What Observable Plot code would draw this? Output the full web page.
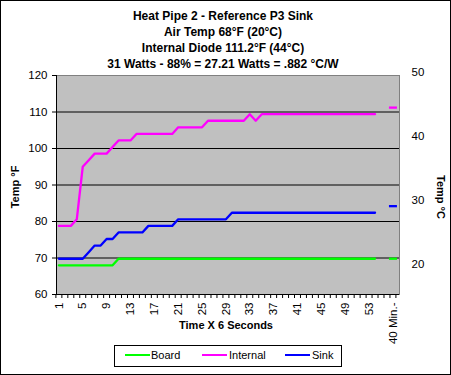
<!DOCTYPE html>
<html><head><meta charset="utf-8">
<script src="https://cdn.jsdelivr.net/npm/d3@7"></script>
<script src="https://cdn.jsdelivr.net/npm/@observablehq/plot@0.6"></script>
<style>
html,body{margin:0;padding:0;background:#fff;}
#wrap{position:relative;width:451px;height:375px;font-family:"Liberation Sans",Arial,sans-serif;overflow:hidden;background:#fff;color:#000;}
#border{position:absolute;left:0;top:0;width:451px;height:375px;box-sizing:border-box;border:1px solid #000;pointer-events:none;}
#title{position:absolute;left:0;top:8px;width:446px;text-align:center;font-weight:bold;font-size:12px;line-height:16px;}
#legend{position:absolute;left:114px;top:345px;width:228px;height:22px;box-sizing:border-box;border:1px solid #000;font-size:11px;background:#fff;}
.sw{position:absolute;top:8px;width:25px;height:2px;}
.lt{position:absolute;top:2px;line-height:14px;white-space:nowrap;}
#chart{position:absolute;left:0;top:0;}
</style></head>
<body>
<div id="wrap">
  <div id="chart"></div>
  <div id="title">
    <div>Heat Pipe 2 - Reference P3 Sink</div>
    <div>Air Temp 68°F (20°C)</div>
    <div>Internal Diode 111.2°F (44°C)</div>
    <div>31 Watts - 88% = 27.21 Watts = .882 °C/W</div>
  </div>
  <div id="legend">
    <div class="sw" style="left:10px;background:#00ff00"></div><span class="lt" style="left:36px">Board</span>
    <div class="sw" style="left:87px;background:#ff00ff"></div><span class="lt" style="left:114px">Internal</span>
    <div class="sw" style="left:170px;background:#0000ff"></div><span class="lt" style="left:197px">Sink</span>
  </div>
  <div id="border"></div>
</div>
<script>
// ---- data (°F) ----
const cats = d3.range(1, 55); // readings 1..54 (every 6 s)
const boardF = [68,68,68,68,68,68,68,68,68,68,
  69.8,69.8,69.8,69.8,69.8,69.8,69.8,69.8,69.8,69.8,
  69.8,69.8,69.8,69.8,69.8,69.8,69.8,69.8,69.8,69.8,
  69.8,69.8,69.8,69.8,69.8,69.8,69.8,69.8,69.8,69.8,
  69.8,69.8,69.8,69.8,69.8,69.8,69.8,69.8,69.8,69.8,
  69.8,69.8,69.8,69.8];
const internalF = [78.8,78.8,78.8,80.6,95,96.8,98.6,98.6,98.6,100.4,
  102.2,102.2,102.2,104,104,104,104,104,104,104,
  105.8,105.8,105.8,105.8,105.8,107.6,107.6,107.6,107.6,107.6,
  107.6,107.6,109.4,107.6,109.4,109.4,109.4,109.4,109.4,109.4,
  109.4,109.4,109.4,109.4,109.4,109.4,109.4,109.4,109.4,109.4,
  109.4,109.4,109.4,109.4];
const sinkF = [69.8,69.8,69.8,69.8,69.8,71.6,73.4,73.4,75.2,75.2,
  77,77,77,77,77,78.8,78.8,78.8,78.8,78.8,
  80.6,80.6,80.6,80.6,80.6,80.6,80.6,80.6,80.6,82.4,
  82.4,82.4,82.4,82.4,82.4,82.4,82.4,82.4,82.4,82.4,
  82.4,82.4,82.4,82.4,82.4,82.4,82.4,82.4,82.4,82.4,
  82.4,82.4,82.4,82.4];
// final reading at "40 Min."
const finalCat = 57;
const boardFinal = 69.8, internalFinal = 111.2, sinkFinal = 84.2;

// ---- axes ----
const yTicks = [60, 70, 80, 90, 100, 110, 120];
const gridF = [70, 80, 90, 100, 110];
const xLabelCats = [1,5,9,13,17,21,25,29,33,37,41,45,49,53,57];
const xLabels = ["1","5","9","13","17","21","25","29","33","37","41","45","49","53","40 Min.-"];
const xTickMarks = d3.range(0.5, 58, 1);
const cTicks = [20, 30, 40, 50];
const cToF = c => 68.3 + (c - 20) * 1.757; // secondary (°C) axis placement

const rows = vals => vals.map((v, i) => ({cat: cats[i], v}));
const dash = {draw(ctx) { ctx.moveTo(-4, 0); ctx.lineTo(4, 0); }};
const xDomain = [0.6, 58.1];

const chart = Plot.plot({
  width: 451, height: 375,
  marginLeft: 56, marginRight: 52, marginTop: 75, marginBottom: 81,
  style: {fontFamily: '"Liberation Sans", Arial, sans-serif', fontSize: "11.5px", color: "#000", background: "transparent", overflow: "visible"},
  x: {type: "linear", domain: xDomain},
  y: {domain: [60, 120]},
  marks: [
    Plot.frame({fill: "#c0c0c0", stroke: "#808080"}),
    Plot.ruleY(gridF, {stroke: "#000"}),
    Plot.ruleY([60], {stroke: "#000"}),
    Plot.ruleX([xDomain[0]], {stroke: "#000"}),
    Plot.axisY({ticks: yTicks, tickSize: 4, tickPadding: 5, label: null}),
    Plot.axisX({ticks: xTickMarks, tickSize: 4, tickFormat: () => "", label: null}),
    Plot.axisX({ticks: xLabelCats, tickSize: 0, tickPadding: 8, tickRotate: -90, tickFormat: c => xLabels[xLabelCats.indexOf(c)], label: null}),
    Plot.text(cTicks, {y: c => cToF(c), text: c => String(c), frameAnchor: "right", textAnchor: "start", dx: 12}),
    Plot.line(rows(boardF), {x: "cat", y: "v", stroke: "#00ff00", strokeWidth: 2.3}),
    Plot.line(rows(internalF), {x: "cat", y: "v", stroke: "#ff00ff", strokeWidth: 2.3}),
    Plot.line(rows(sinkF), {x: "cat", y: "v", stroke: "#0000ff", strokeWidth: 2.3}),
    Plot.dot([boardFinal], {x: () => finalCat, y: d => d, symbol: dash, fill: "none", stroke: "#00ff00", strokeWidth: 2.3}),
    Plot.dot([internalFinal], {x: () => finalCat, y: d => d, symbol: dash, fill: "none", stroke: "#ff00ff", strokeWidth: 2.3}),
    Plot.dot([sinkFinal], {x: () => finalCat, y: d => d, symbol: dash, fill: "none", stroke: "#0000ff", strokeWidth: 2.3}),
    Plot.text(["Temp °F"], {text: d => d, frameAnchor: "left", textAnchor: "middle", lineAnchor: "middle", rotate: -90, dx: -41, dy: 2, fontWeight: "bold", fontSize: 11}),
    Plot.text(["Temp °C"], {text: d => d, frameAnchor: "right", textAnchor: "middle", lineAnchor: "middle", rotate: 90, dx: 41, dy: 12, fontWeight: "bold", fontSize: 11}),
    Plot.text(["Time X 6 Seconds"], {text: d => d, frameAnchor: "bottom", textAnchor: "middle", lineAnchor: "middle", dy: 31, dx: -2, fontWeight: "bold", fontSize: 11})
  ]
});
document.getElementById("chart").appendChild(chart);
</script>
</body></html>
